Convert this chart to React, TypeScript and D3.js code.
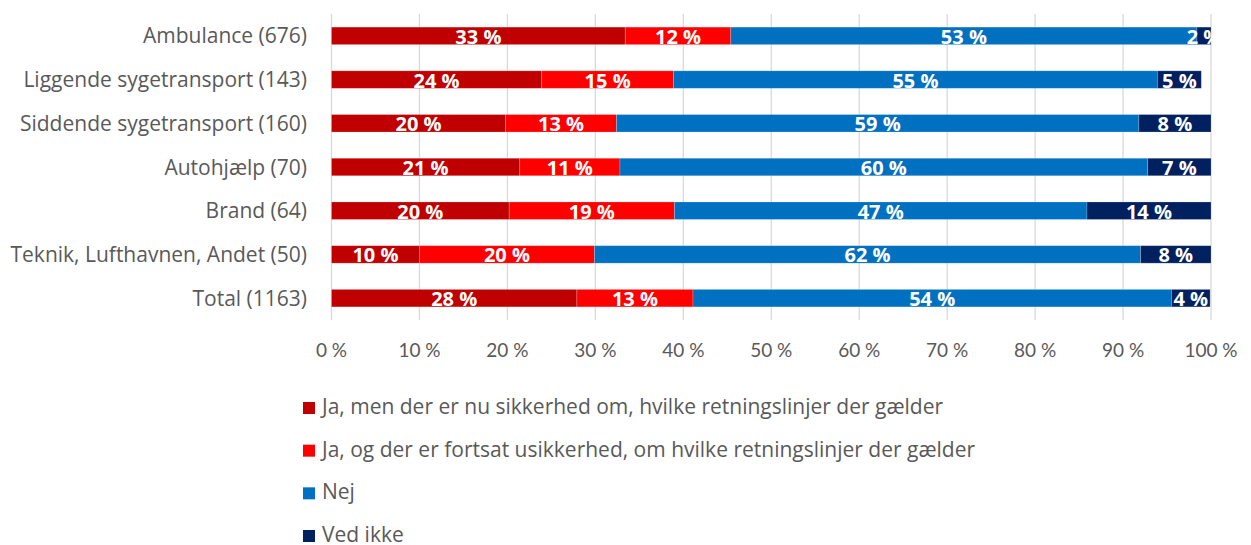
import React from "react";
import * as d3 from "d3";

const width = 1251;
const height = 545;

const categories = [
  "Ambulance (676)",
  "Liggende sygetransport (143)",
  "Siddende sygetransport (160)",
  "Autohjælp (70)",
  "Brand (64)",
  "Teknik, Lufthavnen, Andet (50)",
  "Total (1163)",
];

const seriesNames = [
  "Ja, men der er nu sikkerhed om, hvilke retningslinjer der gælder",
  "Ja, og der er fortsat usikkerhed, om hvilke retningslinjer der gælder",
  "Nej",
  "Ved ikke",
];

// percentages
const jaSikker = [33.4, 23.9, 19.8, 21.4, 20.2, 10.0, 27.9];
const jaUsikker = [12.0, 15.0, 12.6, 11.4, 18.8, 19.9, 13.2];
const nej = [53.0, 55.0, 59.4, 60.0, 46.9, 62.1, 54.4];
const vedIkke = [1.6, 5.0, 8.2, 7.2, 14.1, 8.0, 4.4];

const colors = ["#C00000", "#FF0000", "#0070C0", "#002060"];
const xTicks = [0, 10, 20, 30, 40, 50, 60, 70, 80, 90, 100];

const font = "'Open Sans', sans-serif";
const tickFont = "Lato, sans-serif";

const App = () => {
  const margin = { top: 14, left: 331.5 };
  const x = d3.scaleLinear().domain([0, 100]).range([margin.left, 1211]);
  const y = d3
    .scaleBand()
    .domain(categories)
    .range([margin.top, 320])
    .paddingInner(0.6)
    .paddingOuter(0.3);

  const rows = categories.map((c, i) => ({
    cat: c,
    s0: jaSikker[i],
    s1: jaUsikker[i],
    s2: nej[i],
    s3: vedIkke[i],
  }));
  const stacked = d3.stack().keys(["s0", "s1", "s2", "s3"])(rows as any);

  const legendY = d3.scalePoint().domain(seriesNames).range([407, 535]);

  return (
    <svg
      width={width}
      height={height}
      style={{ position: "absolute", left: 0, top: 0, background: "#fff" }}
    >
      {/* gridlines */}
      {xTicks.map((t) => (
        <line
          key={t}
          x1={x(t)}
          x2={x(t)}
          y1={margin.top}
          y2={320}
          stroke="#D9D9D9"
          strokeWidth={1.3}
        />
      ))}

      {/* bars */}
      {stacked.map((layer, si) => (
        <g key={si}>
          {layer.map((d: any, i) => (
            <rect
              key={i}
              x={x(d[0])}
              y={y(categories[i])}
              width={x(d[1]) - x(d[0])}
              height={y.bandwidth()}
              fill={colors[si]}
              stroke="#fff"
              strokeOpacity={0.25}
              strokeWidth={0.8}
            />
          ))}
        </g>
      ))}

      {/* data labels */}
      {stacked.map((layer, si) => (
        <g key={"l" + si}>
          {layer.map((d: any, i) => (
            <text
              key={i}
              x={(x(d[0]) + x(d[1])) / 2}
              y={(y(categories[i]) as number) + y.bandwidth() / 2 + 8}
              textAnchor="middle"
              fill="#fff"
              fontWeight="bold"
              fontSize={20}
              fontFamily={font}
            >
              {Math.round(d[1] - d[0])} %
            </text>
          ))}
        </g>
      ))}

      {/* category labels */}
      {categories.map((c) => (
        <text
          key={c}
          x={307}
          y={(y(c) as number) + y.bandwidth() / 2 + 7.5}
          textAnchor="end"
          fill="#595959"
          fontSize={21}
          fontFamily={font}
        >
          {c}
        </text>
      ))}

      {/* x tick labels */}
      {xTicks.map((t) => (
        <text
          key={"t" + t}
          x={x(t)}
          y={357}
          textAnchor="middle"
          fill="#595959"
          fontSize={19}
          fontFamily={tickFont}
        >
          {t} %
        </text>
      ))}

      {/* legend */}
      {seriesNames.map((s, i) => (
        <g key={s} transform={`translate(303,${legendY(s)})`}>
          <rect x={0} y={-5} width={12} height={12} fill={colors[i]} />
          <text
            x={19}
            y={7}
            fill="#595959"
            fontSize={21}
            fontFamily={font}
          >
            {s}
          </text>
        </g>
      ))}
    </svg>
  );
};

export default App;
